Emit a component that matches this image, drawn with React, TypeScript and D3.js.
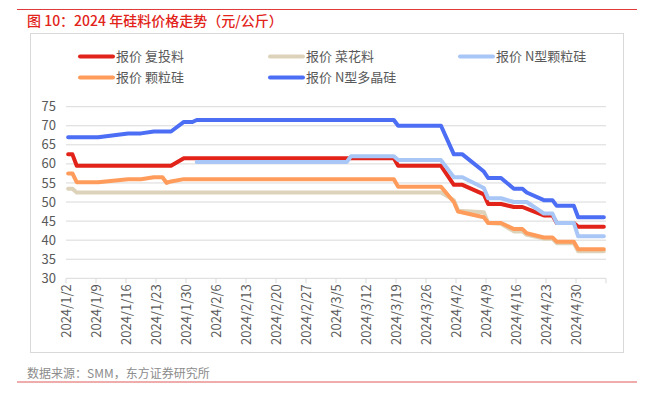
import React from 'react';
import * as d3 from 'd3';

// 报价 (元/公斤), change points on trading days
const fuTouLiao: [string, number][] = [
  ['2024-01-02', 62.5], ['2024-01-03', 62.5], ['2024-01-04', 59.5], ['2024-01-26', 59.5],
  ['2024-01-29', 61.5], ['2024-03-18', 61.5], ['2024-03-19', 59.5], ['2024-03-29', 59.5],
  ['2024-04-01', 54.5], ['2024-04-03', 54.5], ['2024-04-08', 52], ['2024-04-09', 49.5],
  ['2024-04-12', 49.5], ['2024-04-15', 48.7], ['2024-04-17', 48.7], ['2024-04-19', 47.8],
  ['2024-04-22', 46.5], ['2024-04-24', 46.5], ['2024-04-25', 44.5], ['2024-04-29', 44.5],
  ['2024-04-30', 43.5], ['2024-05-06', 43.5],
];
const caiHuaLiao: [string, number][] = [
  ['2024-01-02', 53.5], ['2024-01-03', 53.5], ['2024-01-04', 52.5], ['2024-03-29', 52.5],
  ['2024-04-01', 50.5], ['2024-04-02', 47.7], ['2024-04-08', 47.3], ['2024-04-09', 44.5],
  ['2024-04-12', 44.3], ['2024-04-15', 42.3], ['2024-04-17', 42.3], ['2024-04-18', 41.4],
  ['2024-04-22', 40.4], ['2024-04-24', 40.4], ['2024-04-25', 39.2], ['2024-04-29', 39.2],
  ['2024-04-30', 37.1], ['2024-05-06', 37.1],
];
const nKeLiGui: [string, number][] = [
  ['2024-02-01', 60.5], ['2024-03-07', 60.5], ['2024-03-08', 62], ['2024-03-18', 62],
  ['2024-03-19', 61], ['2024-03-29', 61], ['2024-04-01', 56.5], ['2024-04-03', 56.5],
  ['2024-04-08', 53.7], ['2024-04-09', 51], ['2024-04-12', 51], ['2024-04-15', 50],
  ['2024-04-18', 50], ['2024-04-22', 47], ['2024-04-24', 47], ['2024-04-25', 44.5],
  ['2024-04-29', 44.5], ['2024-04-30', 41], ['2024-05-06', 41],
];
const keLiGui: [string, number][] = [
  ['2024-01-02', 57.5], ['2024-01-03', 57.5], ['2024-01-04', 55.2], ['2024-01-09', 55.2],
  ['2024-01-16', 56], ['2024-01-19', 56], ['2024-01-22', 56.5], ['2024-01-24', 56.5],
  ['2024-01-25', 55], ['2024-01-26', 55.4], ['2024-01-29', 56], ['2024-03-18', 56],
  ['2024-03-19', 54], ['2024-03-29', 54], ['2024-04-01', 50], ['2024-04-02', 47.5],
  ['2024-04-08', 46], ['2024-04-09', 44.5], ['2024-04-12', 44.5], ['2024-04-15', 42.9],
  ['2024-04-17', 42.9], ['2024-04-18', 41.8], ['2024-04-22', 40.7], ['2024-04-24', 40.7],
  ['2024-04-25', 39.6], ['2024-04-29', 39.6], ['2024-04-30', 37.6], ['2024-05-06', 37.6],
];
const nDuoJingGui: [string, number][] = [
  ['2024-01-02', 67], ['2024-01-09', 67], ['2024-01-16', 68], ['2024-01-19', 68],
  ['2024-01-22', 68.5], ['2024-01-26', 68.5], ['2024-01-29', 71], ['2024-01-31', 71],
  ['2024-02-01', 71.5], ['2024-03-18', 71.5], ['2024-03-19', 70], ['2024-03-29', 70],
  ['2024-04-01', 62.5], ['2024-04-03', 62.5], ['2024-04-08', 58], ['2024-04-09', 56.3],
  ['2024-04-12', 56.3], ['2024-04-15', 53.5], ['2024-04-17', 53.5], ['2024-04-18', 52.5],
  ['2024-04-22', 50.5], ['2024-04-24', 50.5], ['2024-04-25', 49], ['2024-04-29', 49],
  ['2024-04-30', 46], ['2024-05-06', 46],
];

const seriesNames = ['报价 复投料', '报价 菜花料', '报价 N型颗粒硅', '报价 颗粒硅', '报价 N型多晶硅'];
const seriesValues = [fuTouLiao, caiHuaLiao, nKeLiGui, keLiGui, nDuoJingGui];
const colors = ['#e2231a', '#ddd3ba', '#a8c6f6', '#ff9c5b', '#4c6ef5'];
const yTicks = [30, 35, 40, 45, 50, 55, 60, 65, 70, 75];

const font = '"Noto Sans CJK SC", "Noto Sans", sans-serif';
const textGray = '#595959';

const parseDay = (s: string) => {
  const [y, m, d] = s.split('-').map(Number);
  return new Date(y, m - 1, d, 12); // centre of the day slot
};

export default function App() {
  const start = new Date(2024, 0, 2);
  const end = new Date(2024, 4, 7);
  const x = d3.scaleTime().domain([start, end]).range([66, 606]);
  const y = d3.scaleLinear().domain([30, 75]).range([278.3, 106.7]);

  const weekTicks = d3.timeDay.range(start, d3.timeDay.offset(end, 1), 7);
  const fmt = d3.timeFormat('%Y/%-m/%-d');

  const line = d3
    .line<[string, number]>()
    .x(d => x(parseDay(d[0])))
    .y(d => y(d[1]));

  // legend slots: [row, col]
  const legendPos = [[0, 0], [0, 1], [0, 2], [1, 0], [1, 1]];
  const colX = [80, 270, 460];
  const rowY = [56.5, 77.5];

  return (
    <svg
      width={654}
      height={394}
      style={{ position: 'absolute', left: 0, top: 0, background: '#fff' }}
      fontFamily={font}
    >
      <line x1={17} x2={637} y1={9.5} y2={9.5} stroke="#e03a3a" strokeWidth={1.2} />
      <text x={27} y={25.5} fontSize={14} fill="#e2231a" fontWeight={500}>
        图 10：2024 年硅料价格走势（元/公斤）
      </text>
      <rect x={30.5} y={33.5} width={593} height={319} fill="none" stroke="#d9d9d9" />

      {yTicks.map(t => (
        <g key={t}>
          <line x1={66} x2={606} y1={y(t)} y2={y(t)} stroke="#d9d9d9" strokeWidth={1} />
          <text x={56} y={y(t)} dy="0.35em" textAnchor="end" fontSize={13} fill={textGray}>
            {t}
          </text>
        </g>
      ))}

      {weekTicks.map((d, i) => (
        <g key={i} transform={`translate(${x(d)},0)`}>
          <line y1={y(30)} y2={y(30) + 5} stroke="#d9d9d9" />
          {i < weekTicks.length - 1 && (
            <text
              transform={`translate(0,${y(30) + 6}) rotate(-90)`}
              dy="0.35em"
              textAnchor="end"
              fontSize={13}
              fill={textGray}
            >
              {fmt(d)}
            </text>
          )}
        </g>
      ))}

      {seriesValues.map((s, i) => (
        <path
          key={i}
          d={line(s) || ''}
          fill="none"
          stroke={colors[i]}
          strokeWidth={4}
          strokeLinejoin="round"
          strokeLinecap="round"
        />
      ))}

      {seriesNames.map((name, i) => {
        const [r, c] = legendPos[i];
        const lx = colX[c];
        const ly = rowY[r];
        return (
          <g key={name}>
            <line x1={lx} x2={lx + 33} y1={ly} y2={ly} stroke={colors[i]} strokeWidth={4} strokeLinecap="round" />
            <text x={lx + 36} y={ly} dy="0.35em" fontSize={13} fill={textGray}>
              {name}
            </text>
          </g>
        );
      })}

      <text x={27} y={378} fontSize={12} fill="#8c8c8c">
        数据来源：SMM，东方证券研究所
      </text>
      <line x1={17} x2={637} y1={382} y2={382} stroke="#e05a5a" strokeWidth={1.2} />
    </svg>
  );
}
